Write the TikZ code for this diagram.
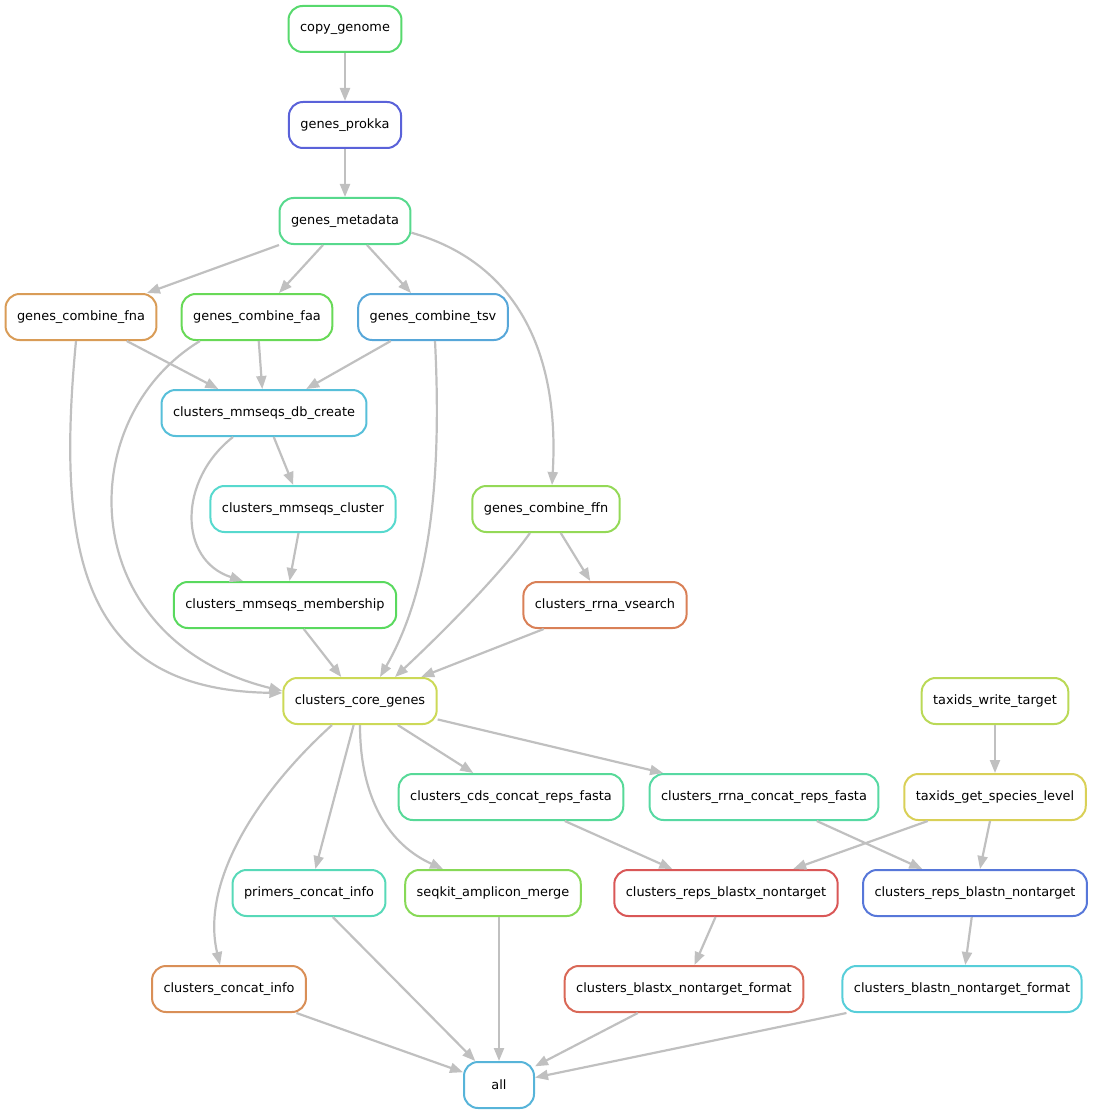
\documentclass[tikz,border=0pt]{standalone}
\usepackage{fontspec}
\setmainfont{DejaVu Sans}
\usetikzlibrary{arrows.meta}

\definecolor{linkgray}{RGB}{192,192,192}
\definecolor{cCopy}{RGB}{87,217,109}
\definecolor{cProkka}{RGB}{90,98,217}
\definecolor{cMeta}{RGB}{87,217,141}
\definecolor{cFna}{RGB}{217,156,87}
\definecolor{cFaa}{RGB}{104,217,87}
\definecolor{cTsv}{RGB}{87,167,217}
\definecolor{cDb}{RGB}{87,191,217}
\definecolor{cClust}{RGB}{87,217,206}
\definecolor{cFfn}{RGB}{148,217,87}
\definecolor{cMemb}{RGB}{89,217,94}
\definecolor{cVsearch}{RGB}{217,128,87}
\definecolor{cCore}{RGB}{204,217,87}
\definecolor{cTwrite}{RGB}{186,217,87}
\definecolor{cCds}{RGB}{87,217,152}
\definecolor{cRrnacat}{RGB}{87,217,163}
\definecolor{cTget}{RGB}{217,208,87}
\definecolor{cPrimers}{RGB}{87,217,184}
\definecolor{cSeqkit}{RGB}{135,217,87}
\definecolor{cBlastx}{RGB}{217,87,87}
\definecolor{cBlastn}{RGB}{87,119,217}
\definecolor{cCinfo}{RGB}{217,143,87}
\definecolor{cBxfmt}{RGB}{217,104,87}
\definecolor{cBnfmt}{RGB}{87,206,217}
\definecolor{cAll}{RGB}{87,180,217}

\tikzset{
  rule/.style={draw, fill=white, rounded corners=14pt, line width=2pt,
    minimum height=46pt, minimum width=70pt, inner xsep=11.5pt,
    font=\fontsize{12.9}{15}\selectfont},
  dep/.style={draw=linkgray, line width=2.2pt, -{Triangle[length=13pt,width=10pt]}},
}

\begin{document}
\begin{tikzpicture}[x=1pt, y=-1pt]
  \useasboundingbox (0,0) rectangle (1094,1115);

  % rules, one row per rank
  \node[rule, draw=cCopy]     (copy)     at (345,29)   {copy\_genome};
  \node[rule, draw=cProkka]   (prokka)   at (345,125)  {genes\_prokka};
  \node[rule, draw=cMeta]     (meta)     at (345,221)  {genes\_metadata};
  \node[rule, draw=cFna]      (fna)      at (81,317)   {genes\_combine\_fna};
  \node[rule, draw=cFaa]      (faa)      at (257,317)  {genes\_combine\_faa};
  \node[rule, draw=cTsv]      (tsv)      at (433,317)  {genes\_combine\_tsv};
  \node[rule, draw=cDb]       (db)       at (264,413)  {clusters\_mmseqs\_db\_create};
  \node[rule, draw=cClust]    (clust)    at (303,509)  {clusters\_mmseqs\_cluster};
  \node[rule, draw=cFfn]      (ffn)      at (546,509)  {genes\_combine\_ffn};
  \node[rule, draw=cMemb]     (memb)     at (285,605)  {clusters\_mmseqs\_membership};
  \node[rule, draw=cVsearch]  (vsearch)  at (605,605)  {clusters\_rrna\_vsearch};
  \node[rule, draw=cCore]     (core)     at (360,701)  {clusters\_core\_genes};
  \node[rule, draw=cTwrite]   (twrite)   at (995,701)  {taxids\_write\_target};
  \node[rule, draw=cCds]      (cds)      at (511,797)  {clusters\_cds\_concat\_reps\_fasta};
  \node[rule, draw=cRrnacat]  (rrnacat)  at (764,797)  {clusters\_rrna\_concat\_reps\_fasta};
  \node[rule, draw=cTget]     (tget)     at (995,797)  {taxids\_get\_species\_level};
  \node[rule, draw=cPrimers]  (primers)  at (309,893)  {primers\_concat\_info};
  \node[rule, draw=cSeqkit]   (seqkit)   at (493,893)  {seqkit\_amplicon\_merge};
  \node[rule, draw=cBlastx]   (blastx)   at (726,893)  {clusters\_reps\_blastx\_nontarget};
  \node[rule, draw=cBlastn]   (blastn)   at (975,893)  {clusters\_reps\_blastn\_nontarget};
  \node[rule, draw=cCinfo]    (cinfo)    at (229,989)  {clusters\_concat\_info};
  \node[rule, draw=cBxfmt]    (bxfmt)    at (684,989)  {clusters\_blastx\_nontarget\_format};
  \node[rule, draw=cBnfmt]    (bnfmt)    at (962,989)  {clusters\_blastn\_nontarget\_format};
  \node[rule, draw=cAll]      (all)      at (499,1085) {all};

  % straight dependencies
  \draw[dep] (copy) -- (prokka);
  \draw[dep] (prokka) -- (meta);
  \draw[dep] (meta) -- (fna);
  \draw[dep] (meta) -- (faa);
  \draw[dep] (meta) -- (tsv);
  \draw[dep] (fna) -- (db);
  \draw[dep] (faa) -- (db);
  \draw[dep] (tsv) -- (db);
  \draw[dep] (db) -- (clust);
  \draw[dep] (clust) -- (memb);
  \draw[dep] (memb) -- (core);
  \draw[dep] (ffn) -- (vsearch);
  \draw[dep] (vsearch) -- (core);
  \draw[dep] (core) -- (cds);
  \draw[dep] (core) -- (rrnacat);
  \draw[dep] (core) -- (primers);
  \draw[dep] (twrite) -- (tget);
  \draw[dep] (tget) -- (blastx);
  \draw[dep] (tget) -- (blastn);
  \draw[dep] (cds) -- (blastx);
  \draw[dep] (rrnacat) -- (blastn);
  \draw[dep] (blastx) -- (bxfmt);
  \draw[dep] (blastn) -- (bnfmt);
  \draw[dep] (cinfo) -- (all);
  \draw[dep] (primers) -- (all);
  \draw[dep] (seqkit.south -| all.north) -- (all.north);
  \draw[dep] (bxfmt) -- (all);
  \draw[dep] (bnfmt) -- (all);

  % curved dependencies
  \draw[dep] (meta.-10) .. controls (515,262) and (560,350) .. ([xshift=6pt]ffn.north);
  \draw[dep] ([xshift=-5pt]fna.south) .. controls (55,560) and (85,690) .. ([yshift=8pt]core.west);
  \draw[dep] ([xshift=-57pt]faa.south) .. controls (70,420) and (75,640) .. ([yshift=10pt]core.west);
  \draw[dep] ([xshift=2pt]tsv.south) .. controls (442,480) and (430,590) .. ([xshift=20pt]core.north);
  \draw[dep] ([xshift=-31pt]db.south) .. controls (178,480) and (178,560) .. ([xshift=-42pt]memb.north);
  \draw[dep] ([xshift=-16pt]ffn.south) .. controls (500,575) and (440,635) .. ([xshift=35pt]core.north);
  \draw[dep] ([xshift=-28pt]core.south) .. controls (260,790) and (200,880) .. ([xshift=-9pt]cinfo.north);
  \draw[dep] (core.south) .. controls (360,800) and (390,845) .. ([xshift=-50pt]seqkit.north);
\end{tikzpicture}
\end{document}
